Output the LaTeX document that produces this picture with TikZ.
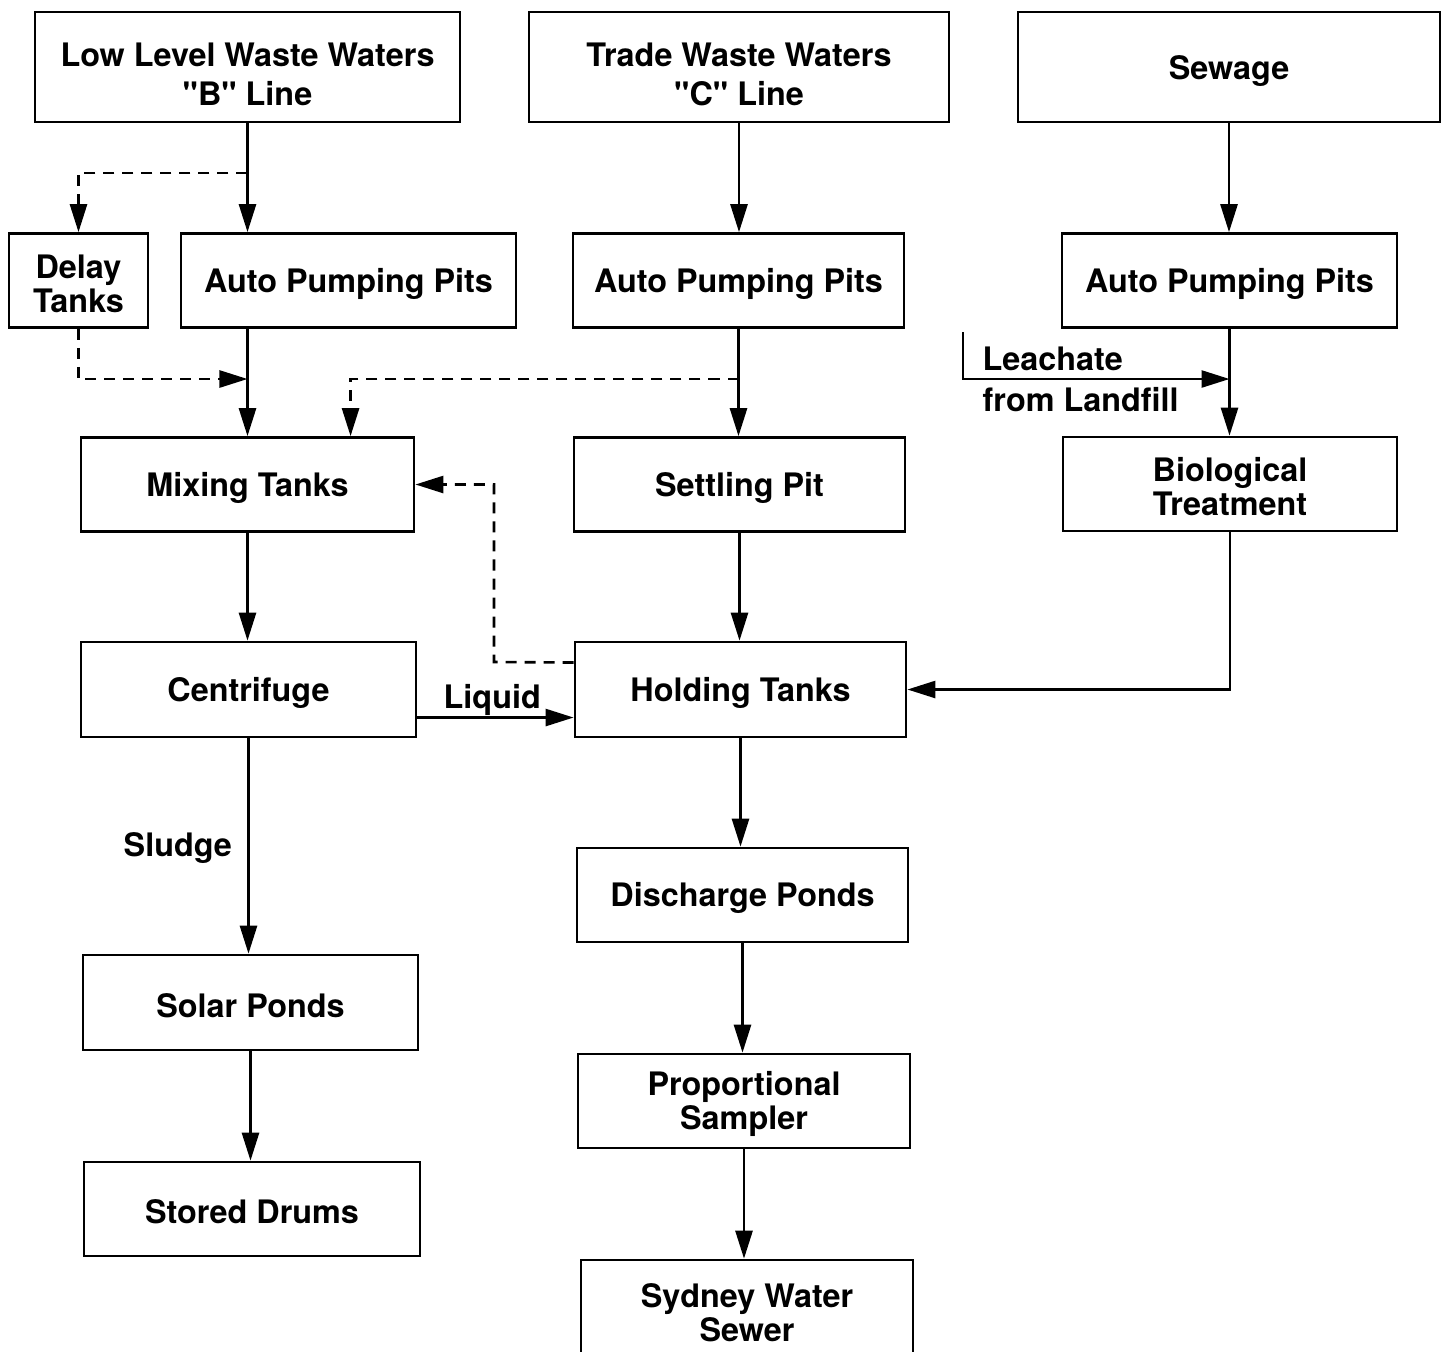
\documentclass[tikz,border=0pt]{standalone}
\usepackage{fontspec}
\setmainfont{TeX Gyre Heros}[Ligatures=TeXOff]
\usetikzlibrary{arrows.meta}
\tikzset{
    stage/.style={draw, line width=0.75pt, align=center, inner sep=0pt,
        minimum width=3.33cm, minimum height=0.94cm,
        font=\fontsize{9.2}{9.7}\selectfont\bfseries,
        execute at begin node={\rule{0pt}{8.6pt}}},
    source/.style={stage, minimum width=4.22cm, minimum height=1.1cm,
        font=\fontsize{9.2}{11.1}\selectfont\bfseries,
        execute at begin node={\rule{0pt}{9pt}}},
    pair/.style={execute at begin node={\rule{0pt}{18.2pt}}},
    sourcepair/.style={execute at begin node={\rule{0pt}{22.1pt}}},
    tag/.style={inner sep=0pt, font=\fontsize{9.2}{9.7}\selectfont\bfseries},
    flow/.style={line width=0.75pt, -{Triangle[length=2.8mm, width=1.7mm]}},
    side/.style={flow, dash pattern=on 1.1mm off 0.8mm}
}
\begin{document}
\begin{tikzpicture}[x=0.01cm, y=-0.01cm]
    \clip (0,0) rectangle (1443,1351);
    \node[source, sourcepair, minimum width=4.25cm] (llw) at (247.5,67) {Low Level Waste Waters\\"B" Line};
    \node[source, sourcepair, minimum width=4.2cm] (tww) at (739,67) {Trade Waste Waters\\"C" Line};
    \node[source] (sew) at (1229,67) {Sewage};
    \node[stage, pair, minimum width=1.39cm] (delay) at (78.5,280.5) {Delay\\Tanks};
    \node[stage, minimum width=3.35cm] (app1) at (348.5,280.5) {Auto Pumping Pits};
    \node[stage, minimum width=3.31cm] (app2) at (738.5,280.5) {Auto Pumping Pits};
    \node[stage, minimum width=3.35cm] (app3) at (1229.5,280.5) {Auto Pumping Pits};
    \node[stage] (mix) at (247.5,484.5) {Mixing Tanks};
    \node[stage, minimum width=3.31cm] (settle) at (739.5,484.5) {Settling Pit};
    \node[stage, pair, minimum width=3.34cm] (bio) at (1230,484) {Biological\\Treatment};
    \node[stage, minimum width=3.35cm, minimum height=0.95cm] (cent) at (248.5,689.5) {Centrifuge};
    \node[stage, minimum width=3.31cm, minimum height=0.95cm] (hold) at (740.5,689.5) {Holding Tanks};
    \node[stage, minimum width=3.31cm] (disch) at (742.5,895) {Discharge Ponds};
    \node[stage, minimum width=3.35cm, minimum height=0.95cm] (solar) at (250.5,1002.5) {Solar Ponds};
    \node[stage, pair, minimum width=3.32cm] (sampler) at (744,1101) {Proportional\\Sampler};
    \node[stage, minimum width=3.36cm] (drums) at (252,1209) {Stored Drums};
    \node[stage, pair, minimum width=3.32cm, minimum height=1cm] (sydney) at (747,1310) {Sydney Water\\Sewer};
    \node[tag, anchor=base west] (leachate) at (982,370) {Leachate};
    \node[tag, anchor=base west] (fromfill) at (982,411) {from Landfill};
    \node[tag, anchor=base west] (liquid) at (443,708) {Liquid};
    \node[tag, anchor=base west] (sludge) at (123,856) {Sludge};
    \coordinate (bsplit) at (247.5,173);
    \coordinate (bjoin) at (247.5,379);
    \coordinate (csplit) at (738.5,379);
    \coordinate (cturn) at (494,662);
    \coordinate (landfill) at (963,332);
    \coordinate (leachin) at (1229.5,379);
    \draw[flow] (llw.south) -- (llw.south |- app1.north);
    \draw[flow] (llw.south |- app1.south) -- (mix.north);
    \draw[flow] (tww.south) -- (tww.south |- app2.north);
    \draw[flow] (sew.south) -- (sew.south |- app3.north);
    \draw[flow] (app2.south) -- (app2.south |- settle.north);
    \draw[flow] (app3.south) -- (app3.south |- bio.north);
    \draw[flow] (mix.south) -- (mix.south |- cent.north);
    \draw[flow] (settle.south) -- (settle.south |- hold.north);
    \draw[flow] (bio.south) |- (hold.east);
    \draw[flow] ([yshift=-2.8mm]cent.east) -- ([yshift=-2.8mm]hold.west);
    \draw[flow] (cent.south) -- (cent.south |- solar.north);
    \draw[flow] (solar.south) -- (solar.south |- drums.north);
    \draw[flow] (hold.south) -- (hold.south |- disch.north);
    \draw[flow] (disch.south) -- (disch.south |- sampler.north);
    \draw[flow] (sampler.south) -- (sampler.south |- sydney.north);
    \draw[flow] (landfill) |- (leachin);
    \draw[side] (bsplit) -| (delay.north);
    \draw[side] (delay.south) |- (bjoin);
    \draw[side] (csplit) -| ([xshift=1.03cm]mix.north);
    \draw[side] ([yshift=2.7mm]hold.west) -- (cturn) |- (mix.east);
\end{tikzpicture}
\end{document}
